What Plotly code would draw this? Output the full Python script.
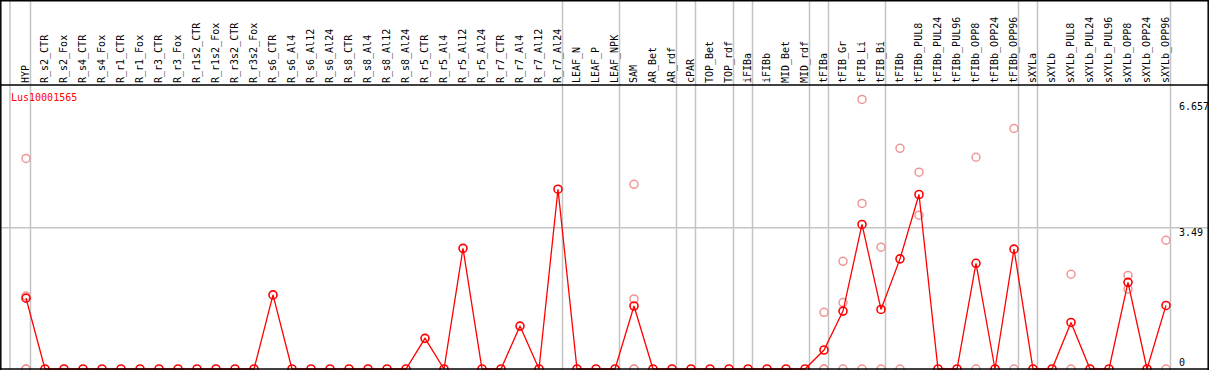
import plotly.graph_objects as go

# ---------------- data ----------------
categories = [
    "HYP", "R_s2_CTR", "R_s2_Fox", "R_s4_CTR", "R_s4_Fox", "R_r1_CTR", "R_r1_Fox",
    "R_r3_CTR", "R_r3_Fox", "R_r1s2_CTR", "R_r1s2_Fox", "R_r3s2_CTR", "R_r3s2_Fox",
    "R_s6_CTR", "R_s6_Al4", "R_s6_Al12", "R_s6_Al24", "R_s8_CTR", "R_s8_Al4",
    "R_s8_Al12", "R_s8_Al24", "R_r5_CTR", "R_r5_Al4", "R_r5_Al12", "R_r5_Al24",
    "R_r7_CTR", "R_r7_Al4", "R_r7_Al12", "R_r7_Al24", "LEAF_N", "LEAF_P", "LEAF_NPK",
    "SAM", "AR_Bet", "AR_rdf", "cPAR", "TOP_Bet", "TOP_rdf", "iFIBa", "iFIBb",
    "MID_Bet", "MID_rdf", "tFIBa", "tFIB_Gr", "tFIB_Li", "tFIB_Bi", "tFIBb",
    "tFIBb_PUL8", "tFIBb_PUL24", "tFIBb_PUL96", "tFIBb_OPP8", "tFIBb_OPP24",
    "tFIBb_OPP96", "sXYLa", "sXYLb", "sXYLb_PUL8", "sXYLb_PUL24", "sXYLb_PUL96",
    "sXYLb_OPP8", "sXYLb_OPP24", "sXYLb_OPP96",
]

mean_values = [
    1.75, 0, 0, 0, 0, 0, 0, 0, 0, 0, 0, 0, 0,
    1.83, 0, 0, 0, 0, 0, 0, 0, 0.757, 0, 2.98, 0, 0, 1.06, 0, 4.44,
    0, 0, 0,
    1.556, 0, 0, 0, 0, 0, 0, 0, 0, 0,
    0.469, 1.43, 3.57, 1.47, 2.72,
    4.31, 0, 0, 2.61, 0, 2.96,
    0, 0, 1.15, 0, 0, 2.14, 0, 1.57,
]

replicates = {
    "HYP": [5.20, 1.80, 0, 0],
    "SAM": [4.56, 1.73, 0, 0],
    "tFIBa": [1.40, 0, 0],
    "tFIB_Gr": [2.66, 1.64, 0],
    "tFIB_Li": [6.657, 4.09, 0],
    "tFIB_Bi": [3.01, 0],
    "tFIBb": [5.45, 0],
    "tFIBb_PUL8": [4.86, 3.80],
    "tFIBb_OPP8": [5.23, 0],
    "tFIBb_OPP96": [5.94, 0],
    "sXYLb_PUL8": [2.34, 0],
    "sXYLb_OPP8": [2.31, 1.97],
    "sXYLb_OPP96": [3.18, 0],
}

# group separators drawn just after these categories
separators_after = ["HYP", "R_r7_Al24", "LEAF_NPK", "AR_rdf", "cPAR", "TOP_rdf",
                    "iFIBa", "MID_rdf", "tFIBa", "tFIB_Bi", "tFIBb_OPP96",
                    "sXYLa", "sXYLb_OPP96"]

y_ticks = [0, 3.49, 6.657]
y_tick_labels = ["0", "3.49", "6.657"]
gene_name = "Lus10001565"

# ---------------- figure ----------------
W, H = 1209, 370
TOP = 85                     # pixel of the plot top (below label band)
PX_PER_CAT = 19.0
FIRST_X = 26.0
ZERO_Y = 369.0
PX_PER_UNIT = 40.49

idx = list(range(len(categories)))
x_range = [-FIRST_X / PX_PER_CAT, (W - FIRST_X) / PX_PER_CAT]
y_range = [-(H - ZERO_Y) / PX_PER_UNIT, (ZERO_Y - TOP) / PX_PER_UNIT]

MONO = "DejaVu Sans Mono"
RED = "#ff0000"
PALE = "rgb(238,150,150)"
GRID = "#c4c4c4"

fig = go.Figure()

rx, ry = [], []
for c, vals in replicates.items():
    i = categories.index(c)
    for v in vals:
        rx.append(i)
        ry.append(v)

fig.add_trace(go.Scatter(
    x=rx, y=ry, mode="markers",
    marker=dict(symbol="circle-open", size=8, color=PALE, line=dict(width=1.5, color=PALE)),
    hoverinfo="skip", showlegend=False, cliponaxis=False,
))
fig.add_trace(go.Scatter(
    x=idx, y=mean_values, mode="lines+markers",
    line=dict(color=RED, width=1.3),
    marker=dict(symbol="circle-open", size=8, color=RED, line=dict(width=1.6, color=RED)),
    showlegend=False, cliponaxis=False,
))

shapes = []
top_paper = 1 + TOP / (H - TOP)
# vertical group separators
shapes.append(dict(type="line", xref="x", yref="paper",
                   x0=x_range[0] + 10 / PX_PER_CAT, x1=x_range[0] + 10 / PX_PER_CAT,
                   y0=0, y1=top_paper, line=dict(color=GRID, width=1.5), layer="below"))
for c in separators_after:
    xs = categories.index(c) + 4.5 / PX_PER_CAT
    shapes.append(dict(type="line", xref="x", yref="paper", x0=xs, x1=xs,
                       y0=0, y1=top_paper, line=dict(color=GRID, width=1.5), layer="below"))
# horizontal grid at middle tick
shapes.append(dict(type="line", xref="paper", yref="y", x0=0, x1=1, y0=y_ticks[1], y1=y_ticks[1],
                   line=dict(color=GRID, width=1.5), layer="below"))
# frame
shapes.append(dict(type="line", xref="paper", yref="paper", x0=0, x1=1, y0=1, y1=1,
                   line=dict(color="black", width=1.5)))
shapes.append(dict(type="line", xref="paper", yref="paper", x0=0, x1=1,
                   y0=top_paper - 0.7 / (H - TOP), y1=top_paper - 0.7 / (H - TOP),
                   line=dict(color="black", width=1.5)))
shapes.append(dict(type="line", xref="paper", yref="y", x0=0, x1=1, y0=0, y1=0,
                   line=dict(color="black", width=1.5)))
shapes.append(dict(type="line", xref="paper", yref="paper", x0=0.8 / W, x1=0.8 / W, y0=0, y1=top_paper,
                   line=dict(color="black", width=1.5)))
shapes.append(dict(type="line", xref="paper", yref="paper", x0=1 - 0.8 / W, x1=1 - 0.8 / W, y0=0, y1=top_paper,
                   line=dict(color="black", width=1.5)))

annotations = [dict(
    text=gene_name, xref="paper", yref="paper", x=9 / W, y=1 - 12 / (H - TOP),
    xanchor="left", yanchor="middle", showarrow=False,
    font=dict(family=MONO, size=10, color=RED),
)]
shifts = [7, -5, -7]
for v, lab, s in zip(y_ticks, y_tick_labels, shifts):
    annotations.append(dict(
        text=lab, xref="paper", yref="y", x=1177 / W, y=v, xanchor="left", yanchor="middle",
        yshift=s, showarrow=False, font=dict(family=MONO, size=10, color="black"),
    ))

fig.update_layout(
    width=W, height=H,
    margin=dict(l=0, r=0, t=TOP, b=0, pad=0),
    paper_bgcolor="white", plot_bgcolor="white",
    xaxis=dict(
        range=x_range, side="top", tickmode="array", tickvals=idx, ticktext=categories,
        tickangle=-90, tickfont=dict(family=MONO, size=10, color="black"),
        showgrid=False, zeroline=False, showline=False, ticks="", ticklabelstandoff=1,
        fixedrange=True,
    ),
    yaxis=dict(range=y_range, showgrid=False, zeroline=False, showline=False,
               showticklabels=False, ticks="", fixedrange=True),
    shapes=shapes, annotations=annotations,
    showlegend=False,
)

fig.write_html(
    "out.html",
    config={"displayModeBar": False},
    post_script="document.body.style.margin='0';document.body.style.overflow='hidden';",
)
